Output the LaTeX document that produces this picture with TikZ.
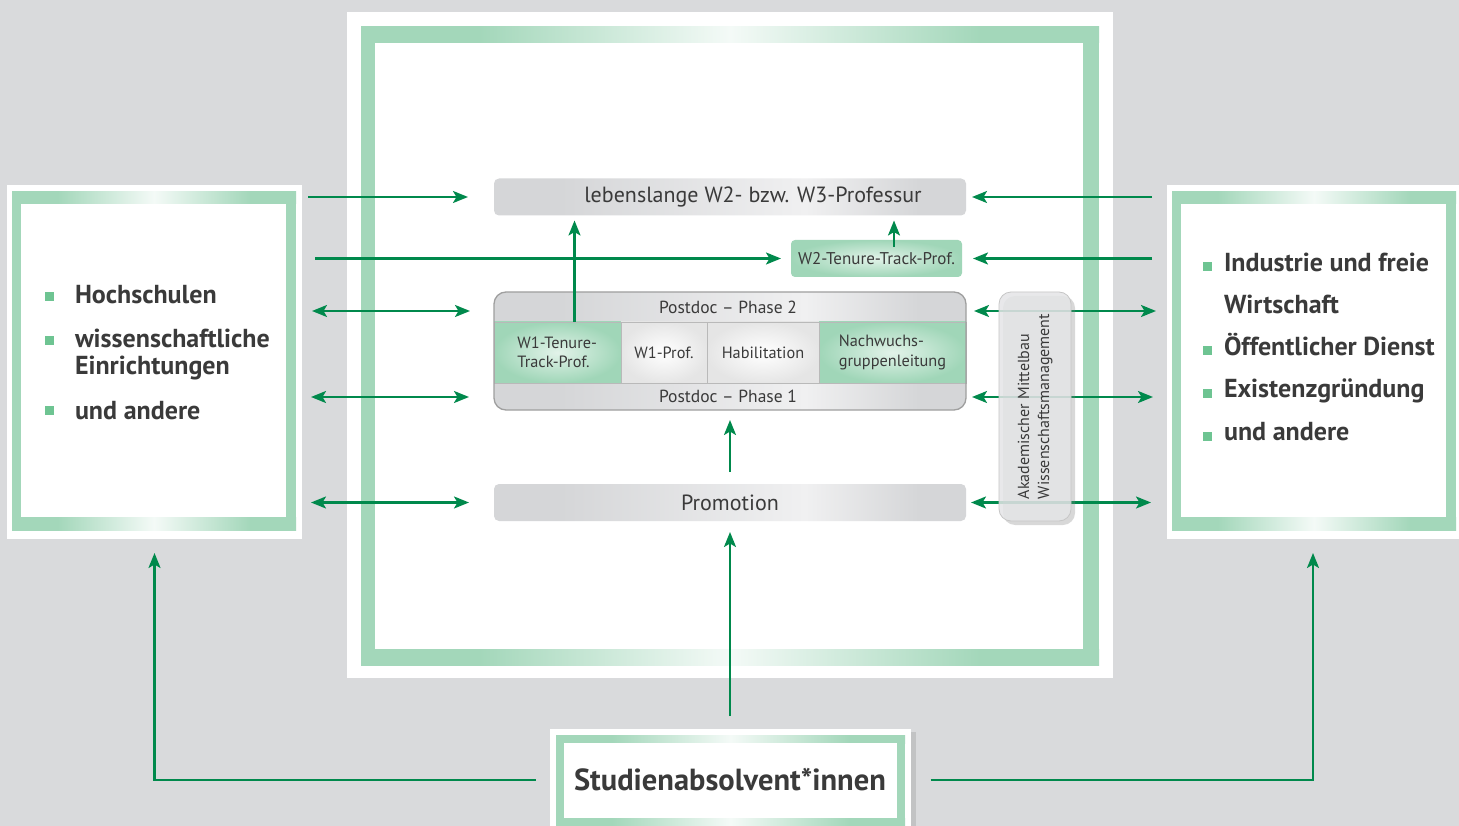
\documentclass[tikz,border=0pt]{standalone}
\usepackage{fontspec}
\setmainfont{PT Sans}
\usetikzlibrary{arrows.meta,shadows,calc}
\definecolor{bggray}{RGB}{217,218,220}
\definecolor{fgreen}{RGB}{163,215,186}
\definecolor{flight}{RGB}{244,250,247}
\definecolor{agreen}{RGB}{0,137,76}
\definecolor{bulgreen}{RGB}{110,196,146}
\definecolor{txt}{RGB}{58,58,58}
\definecolor{boxgray}{RGB}{213,214,216}
\definecolor{boxlight}{RGB}{240,240,241}
\definecolor{vgray}{RGB}{228,229,231}
\definecolor{cellgreen}{RGB}{160,214,184}
\definecolor{celllight}{RGB}{226,243,233}
\pgfdeclarehorizontalshading{bandfade}{100bp}{color(0bp)=(fgreen); color(33bp)=(fgreen); color(50bp)=(flight); color(67bp)=(fgreen); color(100bp)=(fgreen)}
\pgfdeclarehorizontalshading{grayfade}{100bp}{color(0bp)=(boxgray); color(32bp)=(boxgray); color(58bp)=(boxlight); color(70bp)=(boxgray); color(100bp)=(boxgray)}
\begin{document}
\begin{tikzpicture}[x=1pt,y=-1pt,
  tip/.style={},
  arr/.style={draw=agreen, line width=2.2pt, -{Stealth[length=15pt,width=12pt,inset=3.5pt]}},
  darr/.style={draw=agreen, line width=2.2pt, {Stealth[length=15pt,width=12pt,inset=3.5pt]}-{Stealth[length=15pt,width=12pt,inset=3.5pt]}},
  area/.style={inner sep=0pt, outer sep=0pt},
  graybox/.style={area, shading=grayfade, rounded corners=5pt, minimum width=472pt, minimum height=37pt, text=txt, font=\fontsize{22}{26}\selectfont},
  greenbox/.style={area, rounded corners=4pt, inner color=celllight, outer color=cellgreen, minimum width=171pt, minimum height=37pt, text=txt, font=\fontsize{17}{20}\selectfont},
  pdbox/.style={area, shading=grayfade, rounded corners=12pt, minimum width=472pt, minimum height=118pt},
  cell/.style={area, draw=gray!55, line width=0.8pt, minimum height=61pt, text=txt, align=left, font=\fontsize{16.3}{19.5}\selectfont},
  gcell/.style={cell, inner color=celllight, outer color=cellgreen},
  wcell/.style={cell, inner color=white, outer color=black!10},
  phase/.style={area, text=txt, anchor=base, font=\fontsize{17.5}{20}\selectfont},
  vbox/.style={area, draw=gray!45, line width=0.8pt, fill=vgray, fill opacity=0.85, text opacity=1, rounded corners=12pt, minimum width=72pt, minimum height=229pt, text=txt, font=\fontsize{16}{20}\selectfont, drop shadow={shadow xshift=4pt, shadow yshift=-4pt, opacity=0.3}},
  bul/.style={area, fill=bulgreen, minimum size=9pt},
  side/.style={area, text=txt, anchor=base west, font=\bfseries\fontsize{26}{30}\selectfont}
]
\useasboundingbox (0,0) rectangle (1459,826);
\clip (0,0) rectangle (1459,826);
\fill[bggray] (0,0) rectangle (1459,826);

% central frame
\fill[white] (347,12) rectangle (1113,678);
\fill[fgreen] (361,27) rectangle (1099,665);
\shade[shading=bandfade] (361,27) rectangle (1099,43);
\shade[shading=bandfade] (361,649) rectangle (1099,665);
\fill[white] (375,43) rectangle (1083,649);

% left frame
\fill[white] (7,185) rectangle (302,539);
\fill[fgreen] (12,192) rectangle (296,530);
\shade[shading=bandfade] (12,192) rectangle (296,204);
\shade[shading=bandfade] (12,517) rectangle (296,530);
\fill[white] (21,204) rectangle (286,517);

% right frame
\fill[white] (1167,185) rectangle (1470,539);
\fill[fgreen] (1172,192) rectangle (1456,530);
\shade[shading=bandfade] (1172,192) rectangle (1456,204);
\shade[shading=bandfade] (1172,517) rectangle (1456,530);
\fill[white] (1181,204) rectangle (1446,517);

% bottom frame
\fill[white, drop shadow={shadow xshift=5pt, shadow yshift=-3pt, opacity=0.25}] (550,729) rectangle (911,840);
\fill[fgreen] (556,735) rectangle (905,834);
\shade[shading=bandfade] (556,735) rectangle (905,743);
\shade[shading=bandfade] (556,818) rectangle (905,834);
\fill[white] (564,743) rectangle (897,818);

% named areas
\node[area, minimum width=295pt, minimum height=354pt] (L) at (154.5,362) {};
\node[area, minimum width=292pt, minimum height=354pt] (R) at (1313,362) {};
\node[area, minimum width=361pt, minimum height=102pt, text=txt, font=\bfseries\fontsize{30.5}{34}\selectfont] (S) at (730,780) {Studienabsolvent*innen};

% left list
\node[bul] (lb1) at (49,297) {};
\node[side] (lt1) at (75,304) {Hochschulen};
\node[bul] (lb2) at (49,340) {};
\node[side] (lt2) at (75,347) {wissenschaftliche};
\node[side] (lt3) at (75,374) {Einrichtungen};
\node[bul] (lb3) at (49,410) {};
\node[side] (lt4) at (75,419) {und andere};

% right list
\node[bul] (rb1) at (1207.5,267) {};
\node[side] (rt1) at (1224,272) {Industrie und freie};
\node[side] (rt2) at (1224,313) {Wirtschaft};
\node[bul] (rb2) at (1207.5,350) {};
\node[side] (rt3) at (1224,355) {Öffentlicher Dienst};
\node[bul] (rb3) at (1207.5,393) {};
\node[side] (rt4) at (1224,397) {Existenzgründung};
\node[bul] (rb4) at (1207.5,436) {};
\node[side] (rt5) at (1224,440) {und andere};

% centre column
\node[graybox] (leb) at (730,197) {\hspace*{46pt}lebenslange W2- bzw. W3-Professur};
\node[greenbox] (W2) at (876.5,258.5) {W2-Tenure-Track-Prof.};
\node[pdbox] (PD) at (730,351) {};
\node[gcell, minimum width=127pt] (c1) at (557.5,352.5) {W1-Tenure-\\Track-Prof.\hspace*{8pt}};
\node[wcell, minimum width=86pt] (c2) at (664,352.5) {W1-Prof.};
\node[wcell, minimum width=112pt] (c3) at (763,352.5) {Habilitation};
\node[gcell, minimum width=147pt] (c4) at (892.5,352.5) {Nachwuchs-\\gruppenleitung};
\draw[gray!75, line width=1.3pt, rounded corners=12pt] (PD.south west) rectangle (PD.north east);
\node[phase] (ph2) at (728,313) {Postdoc – Phase 2};
\node[phase] (ph1) at (728,402) {Postdoc – Phase 1};
\node[graybox] (Prom) at (730,502.5) {Promotion};

% arrows left
\draw[arr] ([xshift=6pt]L.east |- leb.west) -- ([xshift=-26pt]leb.west);
\draw[arr] ([xshift=13pt]L.east |- W2.west) -- ([xshift=-10pt]W2.west);
\draw[darr] ([xshift=10pt,yshift=40pt]L.east |- PD.west) -- ([xshift=-24pt,yshift=40pt]PD.west);
\draw[darr] ([xshift=9pt,yshift=-46pt]L.east |- PD.west) -- ([xshift=-25pt,yshift=-46pt]PD.west);
\draw[darr] ([xshift=9pt]L.east |- Prom.west) -- ([xshift=-25pt]Prom.west);
% arrows right
\draw[arr] ([xshift=-15pt]R.west |- leb.east) -- ([xshift=6pt]leb.east);
\draw[arr] ([xshift=-15pt]R.west |- W2.east) -- ([xshift=11pt]W2.east);
\draw[darr] ([xshift=8pt,yshift=40pt]PD.east) -- ([xshift=-11pt,yshift=40pt]R.west |- PD.east);
\draw[darr] ([xshift=6pt,yshift=-46pt]PD.east) -- ([xshift=-14pt,yshift=-46pt]R.west |- PD.east);
\draw[darr] ([xshift=5pt]Prom.east) -- ([xshift=-16pt]R.west |- Prom.east);
% arrows up
\draw[arr] ([xshift=17pt]c1.north) -- ([xshift=17pt,yshift=-5pt]c1.north |- leb.south);
\draw[arr] ([xshift=17.5pt,yshift=-7pt]W2.north) -- ([xshift=17.5pt,yshift=-5pt]W2.north |- leb.south);
\draw[arr] ([yshift=12pt]Prom.north) -- ([yshift=-10pt]PD.south);
\draw[arr] ([yshift=13pt]S.north) -- ([yshift=-11pt]Prom.south);
\draw[arr] ([xshift=-14pt]S.west) -| ([yshift=-14pt]L.south);
\draw[arr] ([xshift=20pt]S.east) -| ([yshift=-14pt]R.south);

% vertical box
\node[vbox] (V) at (1035,406.5) {\rotatebox{90}{\begin{tabular}{@{}l@{}}Akademischer Mittelbau\\Wissenschaftsmanagement\end{tabular}}};
\end{tikzpicture}
\end{document}
